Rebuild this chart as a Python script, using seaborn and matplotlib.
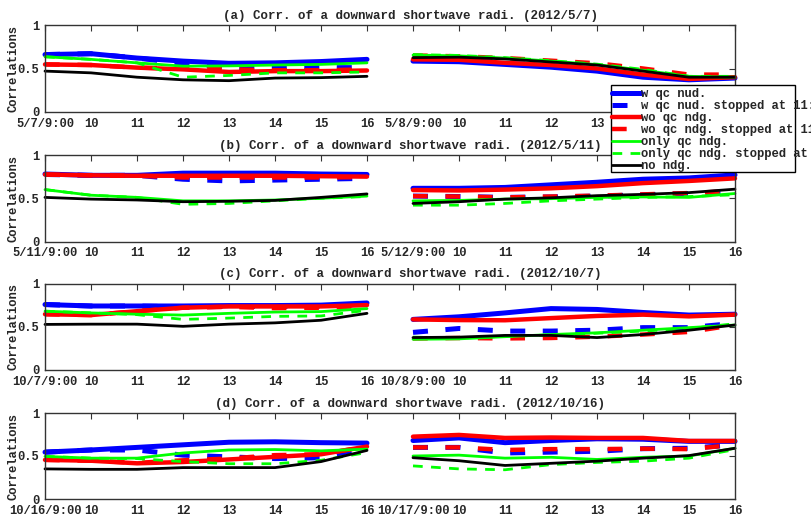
import matplotlib
matplotlib.use("Agg")
import matplotlib.pyplot as plt
from matplotlib.patches import Rectangle
import pandas as pd
import seaborn as sns

# ---------------- data ----------------
hours = ["9:00", "10", "11", "12", "13", "14", "15", "16"]
day_pairs = [("5/7", "5/8"), ("5/11", "5/12"), ("10/7", "10/8"), ("10/16", "10/17")]
titles = [
    "(a) Corr. of a downward shortwave radi. (2012/5/7)",
    "(b) Corr. of a downward shortwave radi. (2012/5/11)",
    "(c) Corr. of a downward shortwave radi. (2012/10/7)",
    "(d) Corr. of a downward shortwave radi. (2012/10/16)",
]
series_labels = [
    "w qc nud.",
    "w qc nud. stopped at 11:00",
    "wo qc ndg.",
    "wo qc ndg. stopped at 11",
    "only qc ndg.",
    "only qc ndg. stopped at 11",
    "no ndg.",
]

# panel (a) 2012/5/7 - 5/8 (day1 8 values + day2 8 values)
a_wqc    = [0.66, 0.67, 0.62, 0.585, 0.56, 0.565, 0.58, 0.605,  0.585, 0.578, 0.547, 0.515, 0.47, 0.40, 0.37, 0.39]
a_wqc_s  = [0.66, 0.67, 0.62, 0.56, 0.51, 0.51, 0.51, 0.51,     0.60, 0.595, 0.56, 0.53, 0.48, 0.41, 0.38, 0.40]
a_woqc   = [0.547, 0.54, 0.51, 0.49, 0.46, 0.47, 0.47, 0.477,   0.605, 0.60, 0.565, 0.54, 0.50, 0.43, 0.38, 0.40]
a_woqc_s = [0.547, 0.54, 0.51, 0.50, 0.49, 0.48, 0.48, 0.49,    0.65, 0.64, 0.62, 0.59, 0.56, 0.50, 0.43, 0.43]
a_only   = [0.635, 0.605, 0.565, 0.527, 0.53, 0.54, 0.547, 0.565, 0.655, 0.645, 0.62, 0.585, 0.545, 0.48, 0.41, 0.40]
a_only_s = [0.635, 0.605, 0.565, 0.40, 0.42, 0.45, 0.45, 0.46,  0.66, 0.65, 0.625, 0.59, 0.55, 0.49, 0.41, 0.41]
a_no     = [0.47, 0.45, 0.40, 0.37, 0.36, 0.39, 0.395, 0.41,    0.625, 0.63, 0.61, 0.575, 0.54, 0.47, 0.40, 0.40]

# panel (b) 2012/5/11 - 5/12
b_wqc    = [0.78, 0.765, 0.765, 0.79, 0.79, 0.79, 0.78, 0.775,  0.615, 0.615, 0.625, 0.655, 0.685, 0.72, 0.735, 0.77]
b_wqc_s  = [0.775, 0.765, 0.765, 0.72, 0.70, 0.71, 0.72, 0.73,  0.525, 0.52, 0.51, 0.515, 0.525, 0.54, 0.555, 0.58]
b_woqc   = [0.775, 0.765, 0.76, 0.76, 0.76, 0.76, 0.755, 0.75,  0.595, 0.59, 0.60, 0.615, 0.64, 0.675, 0.70, 0.73]
b_woqc_s = [0.775, 0.765, 0.76, 0.74, 0.74, 0.74, 0.74, 0.745,  0.525, 0.52, 0.51, 0.52, 0.53, 0.545, 0.56, 0.585]
b_only   = [0.60, 0.535, 0.51, 0.47, 0.47, 0.48, 0.50, 0.525,   0.47, 0.475, 0.49, 0.495, 0.51, 0.515, 0.51, 0.555]
b_only_s = [0.60, 0.535, 0.51, 0.43, 0.44, 0.47, 0.50, 0.52,    0.42, 0.42, 0.44, 0.47, 0.49, 0.51, 0.52, 0.54]
b_no     = [0.51, 0.49, 0.48, 0.46, 0.465, 0.475, 0.51, 0.55,   0.44, 0.46, 0.49, 0.505, 0.53, 0.545, 0.565, 0.605]

# panel (c) 2012/10/7 - 10/8
c_wqc    = [0.757, 0.74, 0.74, 0.74, 0.745, 0.745, 0.75, 0.775, 0.585, 0.615, 0.66, 0.71, 0.70, 0.665, 0.635, 0.645]
c_wqc_s  = [0.757, 0.74, 0.74, 0.73, 0.735, 0.735, 0.74, 0.76,  0.435, 0.48, 0.45, 0.45, 0.46, 0.49, 0.49, 0.54]
c_woqc   = [0.645, 0.635, 0.68, 0.72, 0.735, 0.735, 0.735, 0.75, 0.585, 0.577, 0.575, 0.60, 0.625, 0.64, 0.62, 0.64]
c_woqc_s = [0.645, 0.635, 0.68, 0.72, 0.73, 0.715, 0.72, 0.74,  0.365, 0.37, 0.365, 0.37, 0.385, 0.41, 0.44, 0.52]
c_only   = [0.68, 0.66, 0.645, 0.635, 0.655, 0.67, 0.675, 0.71, 0.355, 0.36, 0.385, 0.41, 0.43, 0.46, 0.49, 0.52]
c_only_s = [0.68, 0.66, 0.64, 0.585, 0.60, 0.62, 0.625, 0.69,   0.38, 0.37, 0.39, 0.405, 0.425, 0.45, 0.48, 0.535]
c_no     = [0.527, 0.53, 0.53, 0.505, 0.53, 0.545, 0.575, 0.655, 0.375, 0.38, 0.40, 0.40, 0.375, 0.41, 0.46, 0.52]

# panel (d) 2012/10/16 - 10/17
d_wqc    = [0.545, 0.57, 0.60, 0.63, 0.66, 0.665, 0.655, 0.65,  0.68, 0.71, 0.655, 0.68, 0.70, 0.695, 0.67, 0.67]
d_wqc_s  = [0.545, 0.57, 0.57, 0.51, 0.49, 0.47, 0.48, 0.60,    0.60, 0.60, 0.535, 0.545, 0.555, 0.585, 0.59, 0.63]
d_woqc   = [0.455, 0.445, 0.415, 0.43, 0.46, 0.49, 0.52, 0.61,  0.725, 0.745, 0.71, 0.715, 0.71, 0.71, 0.675, 0.675]
d_woqc_s = [0.455, 0.445, 0.42, 0.45, 0.47, 0.51, 0.52, 0.61,   0.60, 0.60, 0.57, 0.58, 0.58, 0.585, 0.58, 0.63]
d_only   = [0.495, 0.475, 0.475, 0.535, 0.57, 0.575, 0.56, 0.58, 0.50, 0.51, 0.475, 0.485, 0.46, 0.485, 0.50, 0.59]
d_only_s = [0.495, 0.475, 0.47, 0.435, 0.41, 0.41, 0.45, 0.54,  0.385, 0.35, 0.34, 0.40, 0.425, 0.44, 0.475, 0.575]
d_no     = [0.35, 0.345, 0.345, 0.365, 0.365, 0.365, 0.435, 0.565, 0.48, 0.445, 0.39, 0.415, 0.44, 0.475, 0.505, 0.59]

panels = [
    [a_wqc, a_wqc_s, a_woqc, a_woqc_s, a_only, a_only_s, a_no],
    [b_wqc, b_wqc_s, b_woqc, b_woqc_s, b_only, b_only_s, b_no],
    [c_wqc, c_wqc_s, c_woqc, c_woqc_s, c_only, c_only_s, c_no],
    [d_wqc, d_wqc_s, d_woqc, d_woqc_s, d_only, d_only_s, d_no],
]

# ---------------- styles ----------------
styles = [
    dict(color=(0, 0, 1), lw=3.6, ls="-"),
    dict(color=(0, 0, 1), lw=3.6, ls=(0, (3.0, 3.5))),
    dict(color=(1, 0, 0), lw=3.2, ls="-"),
    dict(color=(1, 0, 0), lw=3.2, ls=(0, (3.3, 4.0))),
    dict(color=(0, 1, 0), lw=2.0, ls="-"),
    dict(color=(0, 1, 0), lw=2.0, ls=(0, (3.5, 3.0))),
    dict(color=(0, 0, 0), lw=2.0, ls="-"),
]

sns.set_style("white")
plt.rcParams["font.family"] = ["Liberation Mono", "DejaVu Sans Mono"]
plt.rcParams["font.weight"] = "bold"
FS = 8.7

W, H = 811, 517
fig = plt.figure(figsize=(W / 100, H / 100), dpi=100)
fig.patch.set_facecolor("white")

left_px, right_px = 45, 735
ax_rows = [(25, 112), (155, 241.5), (283.5, 370), (413, 499)]

axes = []
for i, (top_px, bot_px) in enumerate(ax_rows):
    ax = fig.add_axes([left_px / W, 1 - bot_px / H, (right_px - left_px) / W, (bot_px - top_px) / H])
    axes.append(ax)
    vals_list = panels[i]
    for j, (vals, st) in enumerate(zip(vals_list, styles)):
        for day in range(2):
            pos = list(range(day * 8, day * 8 + 8))
            df = pd.DataFrame({"pos": pos, "corr": vals[day * 8: day * 8 + 8]})
            kw = {}
            if i == 0 and day == 0:
                kw["label"] = series_labels[j]
            sns.lineplot(data=df, x="pos", y="corr", ax=ax, color=st["color"],
                         linewidth=st["lw"], linestyle=st["ls"], sort=False,
                         estimator=None, legend=False, clip_on=False, **kw)
    d1, d2 = day_pairs[i]
    ax.set_xlim(0, 15)
    ax.set_ylim(0, 1)
    ax.set_xticks(range(16))
    ax.set_xticklabels([f"{d1}/9:00"] + hours[1:] + [f"{d2}/9:00"] + hours[1:],
                       fontsize=FS, fontweight="bold")
    ax.set_yticks([0, 0.5, 1])
    ax.set_yticklabels(["0", "0.5", "1"], fontsize=FS, fontweight="bold")
    ax.set_xlabel("")
    ax.set_ylabel("Correlations", fontsize=FS, fontweight="bold", labelpad=-1.5)
    ax.set_title(titles[i], fontsize=9, fontweight="bold", x=0.529, pad=4.5)
    ax.tick_params(direction="in", top=True, right=True, length=4, width=0.8,
                   color="#333333", pad=4)
    for sp in ax.spines.values():
        sp.set_visible(True)
        sp.set_color("#333333")
        sp.set_linewidth(1.0)

# legend with a fixed-size frame (text overflows like the original)
rect = Rectangle((611 / W, 1 - 172 / H), (795 - 611) / W, (172 - 85) / H,
                 transform=fig.transFigure, facecolor="white", edgecolor="black",
                 linewidth=1.0, zorder=4.9)
fig.add_artist(rect)
handles, labels = axes[0].get_legend_handles_labels()
leg = fig.legend(handles, labels, loc="upper left", bbox_to_anchor=(612 / W, 1 - 88 / H),
                 frameon=False, prop={"family": ["Liberation Mono"], "weight": "bold", "size": FS},
                 handlelength=2.4, handletextpad=0.0, labelspacing=0.0,
                 borderpad=0.0, borderaxespad=0.0)
leg.set_zorder(5)

fig.savefig("out.png", dpi=100)
